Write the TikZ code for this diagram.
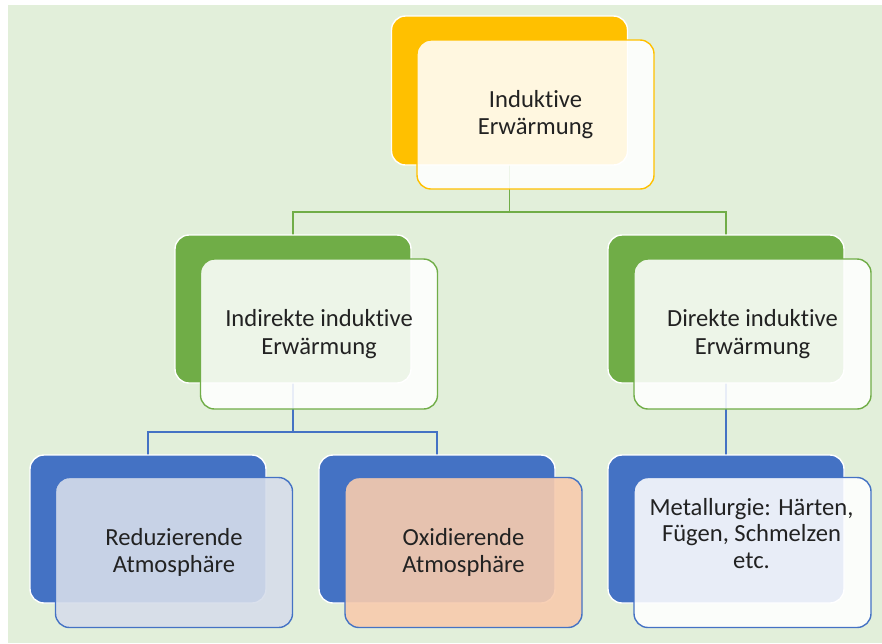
\documentclass[tikz,border=0pt]{standalone}
\usepackage{fontspec}
\setmainfont{Carlito}[Ligatures=NoCommon]
\usetikzlibrary{calc}
\definecolor{bgc}{HTML}{E2EFDA}
\definecolor{yel}{HTML}{FFC000}
\definecolor{grn}{HTML}{70AD47}
\definecolor{blu}{HTML}{4472C4}
\definecolor{gryblu}{HTML}{D6DDEA}
\definecolor{peach}{HTML}{F8CBAD}
\definecolor{txtc}{HTML}{222222}
\begin{document}
\begin{tikzpicture}[x=1pt,y=-1pt,
  backbox/.style={rectangle, rounded corners=14pt, draw=white, line width=1.4pt, fill=#1,
    minimum width=236pt, minimum height=148pt, inner sep=0pt, outer sep=0pt},
  frontbox/.style={rectangle, rounded corners=14pt, draw=#1, line width=1.4pt,
    minimum width=237pt, minimum height=150pt, inner sep=0pt, outer sep=0pt,
    align=center, text=txtc, font=\fontsize{24.6}{27.8}\selectfont},
  wfill/.style={fill=white, fill opacity=0.88, text opacity=1},
  txt/.style={align=center, text=txtc, font=\fontsize{24.6}{26.8}\selectfont, inner sep=0pt},
  gline/.style={draw=grn, line width=1.4pt},
  bline/.style={draw=blu, line width=1.4pt}]
\useasboundingbox (0,0) rectangle (882,643);
\fill[white] (0,0) rectangle (882,643);
\fill[bgc] (8,5) rectangle (882,643);

% back box positions
\coordinate (pTop) at (509.5,90.5);
\coordinate (pInd) at (293,309);
\coordinate (pDir) at (726,309);
\coordinate (pRed) at (148,529);
\coordinate (pOxi) at (437,529);
\coordinate (pMet) at (726,529);

% connectors (drawn first, behind boxes)
\path (pTop) ++(0,74.5) coordinate (topS);
\path (pInd) ++(0,-74) coordinate (indN);
\path (pDir) ++(0,-74) coordinate (dirN);
\path (pInd) ++(0,74) coordinate (indS);
\path (pDir) ++(0,74) coordinate (dirS);
\path (pRed) ++(0,-74) coordinate (redN);
\path (pOxi) ++(0,-74) coordinate (oxiN);
\path (pMet) ++(0,-74) coordinate (metN);
\draw[gline] (topS) -- ++(0,47) -| (indN);
\draw[gline] (topS) -- ++(0,47) -| (dirN);
\draw[bline] (indS) -- ++(0,49) -| (redN);
\draw[bline] (indS) -- ++(0,49) -| (oxiN);
\draw[bline] (dirS) -- (metN);

% back boxes
\node[backbox=yel, minimum height=149pt] (topB) at (pTop) {};
\node[backbox=grn] (indB) at (pInd) {};
\node[backbox=grn] (dirB) at (pDir) {};
\node[backbox=blu] (redB) at (pRed) {};
\node[backbox=blu] (oxiB) at (pOxi) {};
\node[backbox=blu] (metB) at (pMet) {};

% front boxes
\node[frontbox=yel, wfill, minimum height=149pt] (topF) at ($(topB.center)+(26,24)$) {Induktive\\Erwärmung};
\node[frontbox=grn, wfill] (indF) at ($(indB.center)+(26,25)$) {Indirekte induktive\\Erwärmung};
\node[frontbox=grn, wfill] (dirF) at ($(dirB.center)+(26.5,25)$) {Direkte induktive\\Erwärmung};
\node[frontbox=blu, fill=gryblu, fill opacity=0.9, text opacity=1] (redF) at ($(redB.center)+(26,23.5)$) {Reduzierende\\Atmosphäre};
\node[frontbox=blu, fill=peach, fill opacity=0.9, text opacity=1] (oxiF) at ($(oxiB.center)+(26.5,23.5)$) {Oxidierende\\Atmosphäre};
\node[frontbox=blu, wfill] (metF) at ($(metB.center)+(26.5,23.5)$) {};
\node[txt] (metT) at ($(metF.center)+(-1,-19)$) {Metallurgie: Härten,\\Fügen, Schmelzen\\etc.};
\end{tikzpicture}
\end{document}
